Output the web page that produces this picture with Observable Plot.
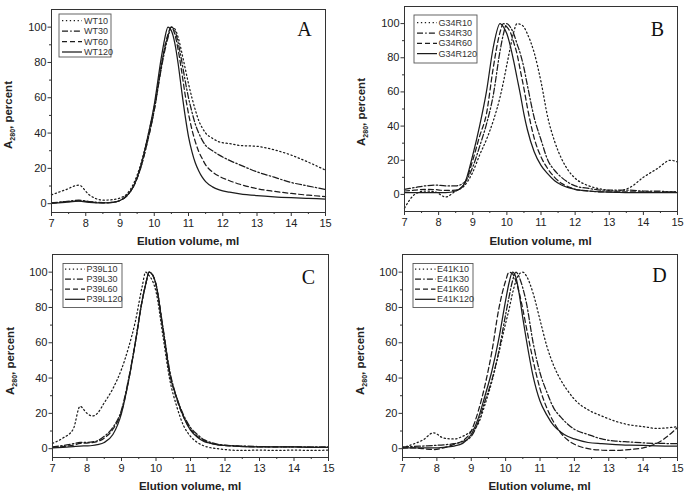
<!DOCTYPE html>
<html>
<head>
<meta charset="utf-8">
<script src="https://cdn.jsdelivr.net/npm/d3@7"></script>
<script src="https://cdn.jsdelivr.net/npm/@observablehq/plot@0.6"></script>
<style>
  body { margin: 0; background: #fff; }
  #fig { position: relative; width: 698px; height: 491px; overflow: hidden; background: #fff; }
  .panel { position: absolute; }
  .panel svg { overflow: visible; }
</style>
</head>
<body>
<div id="fig"></div>
<script>
// Elution profiles (A280, % of peak maximum) vs. elution volume, ml

// Panel A: wild type
const volA = [7, 7.4, 7.8, 8.1, 8.5, 8.8, 9, 9.2, 9.4, 9.6, 9.8, 10, 10.2, 10.3, 10.4, 10.5, 10.6, 10.7, 10.8, 10.9,
  11, 11.1, 11.2, 11.3, 11.4, 11.5, 11.7, 11.9, 12.2, 12.5, 13, 13.5, 14, 14.5, 15];
const wt10 = [5, 7.8, 10.5, 5, 2, 2.3, 3.2, 5.5, 11.5, 22, 37, 55, 78, 88, 95, 100, 99, 94, 86, 77,
  68, 60, 53, 47, 43, 40, 37, 35, 34, 33, 32.5, 30.5, 27.5, 23.5, 19];
const wt30 = [0.5, 1.2, 2, 1.2, 0.6, 0.8, 1.8, 4.5, 10, 20, 35, 53, 76, 86, 94, 100, 98, 91, 81, 70,
  60, 52, 45, 40, 36, 33, 30, 27.5, 24.5, 22, 18, 15, 12, 10, 8];
const wt60 = [0.3, 1, 1.6, 1, 0.5, 0.8, 1.8, 4.5, 10, 20, 35, 53, 77, 88, 96, 100, 96, 87, 75, 62,
  51, 42, 35, 29.5, 25.5, 22, 18, 15.5, 13, 11, 8.5, 7, 5.8, 4.8, 4];
const wt120 = [0.2, 0.8, 1.4, 0.8, 0.4, 0.8, 1.8, 4.5, 10, 21, 37, 56, 82, 93, 100, 98, 91, 79, 64, 50,
  38, 29.5, 23, 18.5, 15, 12.5, 9.5, 7.8, 6.5, 5.6, 4.6, 3.9, 3.4, 3, 2.6];

// Panel B: G34R
const volB = [7, 7.3, 7.6, 7.9, 8.2, 8.5, 8.75, 9, 9.2, 9.4, 9.6, 9.8, 9.9, 10, 10.1, 10.2, 10.3, 10.4, 10.5, 10.6,
  10.8, 11, 11.2, 11.4, 11.6, 11.8, 12, 12.4, 12.8, 13.2, 13.6, 14, 14.4, 14.8, 15];
const g34r10 = [-8, 0, 2, 1.5, -1.5, 2, 5, 13, 23, 32, 43, 57, 66, 76, 86, 95, 100, 99.5, 98, 94,
  83, 66, 45, 31, 21, 14, 9.5, 5, 3, 2, 4, 10, 15, 20, 19];
const g34r30 = [3, 4, 5, 5.5, 5, 5, 7, 16, 28, 41, 58, 84, 94, 100, 98, 94, 88, 82, 74, 64,
  45, 32, 20, 14, 10, 7, 5, 3.5, 2.5, 2.5, 2.5, 2, 2, 1.5, 1.5];
const g34r60 = [2, 2.5, 3, 2.8, 2.3, 2.5, 6, 20, 34, 47, 74, 95, 100, 98, 95, 89, 82, 72, 62, 51,
  33, 22, 15, 10, 6.5, 4.5, 3, 2, 1.5, 1.5, 1.5, 1.5, 1.5, 1.5, 1.5];
const g34r120 = [1, 1, 1, 1, 1, 2, 6, 23, 40, 60, 86, 100, 98, 94, 87, 78, 68, 58, 47, 38,
  25, 17, 12, 8, 5.5, 4, 3, 2, 1.5, 1.2, 1, 1, 1, 1, 1];

// Panel C: P39L
const volC = [7, 7.3, 7.6, 7.8, 8, 8.15, 8.3, 8.5, 8.75, 9, 9.2, 9.4, 9.6, 9.7, 9.8, 9.9, 10, 10.2, 10.4, 10.6,
  10.8, 11, 11.2, 11.4, 11.6, 11.8, 12, 12.5, 13, 13.5, 14, 14.5, 15];
const p39l10 = [3, 6, 11, 24, 20, 18.5, 20, 26, 34, 45, 57, 72, 92, 100, 98, 95, 89, 64, 39, 24,
  13, 7, 3.5, 1.5, 0.5, 0, -0.5, -1, -0.8, -1, -0.8, -1, -0.8];
const p39l30 = [1, 1.8, 2.8, 3.5, 3.6, 3.8, 4.5, 7, 12, 22, 39, 60, 84, 93, 100, 98.5, 93, 69, 44, 29,
  19, 12, 8, 5, 3.5, 2.5, 2, 1.5, 1.2, 1, 1, 1, 1];
const p39l60 = [0.8, 1.2, 2, 3, 3.2, 3.4, 4, 6, 11, 21, 38, 60, 84, 93, 100, 98.5, 93, 68, 43, 28,
  18, 11, 7, 4.5, 3, 2.2, 1.8, 1.3, 1, 1, 1, 0.8, 0.8];
const p39l120 = [0.5, 0.8, 1.2, 1.5, 1.6, 1.8, 2.3, 3.5, 8, 20, 38, 60, 84, 93, 100, 98.5, 93, 68, 42, 29,
  18, 10.5, 6.5, 4, 3, 2.2, 1.8, 1.2, 1, 1, 1, 0.8, 0.8];

// Panel D: E41K
const volD = [7, 7.3, 7.6, 7.9, 8.2, 8.5, 8.75, 9, 9.2, 9.4, 9.6, 9.8, 10, 10.1, 10.2, 10.3, 10.4, 10.5, 10.6,
  10.8, 11, 11.2, 11.4, 11.6, 11.8, 12, 12.4, 12.8, 13.2, 13.6, 14, 14.4, 14.8, 15];
const e41k10 = [0.5, 2.5, 5, 9, 6, 5.5, 7, 10, 14, 25, 38, 54, 71, 79, 88, 95, 99, 100, 98,
  88, 73, 58, 47, 39, 33, 28, 22, 18.5, 15.5, 13.5, 12.5, 11.5, 12, 12.5];
const e41k30 = [1, 1.2, 1.5, 1.8, 2.2, 2.8, 4, 7, 15, 27, 39, 55, 76, 86, 95, 100, 97, 91, 83,
  60, 43, 32, 23, 18, 14, 11, 8, 5.5, 4.3, 3.8, 3.3, 3, 2.9, 2.8];
const e41k60 = [0.3, 0.5, 0, -0.5, 0.5, 2.5, 4.5, 10, 21, 36, 55, 79, 95, 100, 99, 95, 88, 79, 69,
  50, 34, 23, 15, 9, 5, 2.5, 0, -0.8, -1, -0.5, 0.5, 3, 8.5, 12];
const e41k120 = [0.5, 0.5, 0.5, 0.5, 0.8, 1.5, 3, 8, 17, 30, 44, 62, 84, 94, 100, 97, 87, 74, 62,
  41, 27, 19, 13, 9.5, 7, 5.5, 3.5, 2.8, 2.3, 2, 1.8, 1.6, 1.5, 1.5];

// Axis ticks
const xTicks = [7, 8, 9, 10, 11, 12, 13, 14, 15];
const xMinor = [7.5, 8.5, 9.5, 10.5, 11.5, 12.5, 13.5, 14.5];
const yTicks = [0, 20, 40, 60, 80, 100];
const yMinor = [10, 30, 50, 70, 90];

// Line styles shared by the four incubation times
const dashes = ["1.3,2.6", "6,2.2,1.5,2.2", "5,3", null];

const ink = "#1c1c1c";
const font = "'Liberation Sans', Arial, Helvetica, sans-serif";

const panels = [
  { letter: "A", left: 0, top: 0, width: 349, height: 245, m: [9, 24, 33, 51], yDomain: [-5, 110],
    vol: volA, names: ["WT10", "WT30", "WT60", "WT120"], data: [wt10, wt30, wt60, wt120],
    legend: { x: 59, y: 14, w: 52, h: 43, row0: 20.5, dy: 10.5, lx0: 62, lx1: 82, tx: 84 },
    letterPos: [304.5, 35.5], yTitle: [12, 115] },
  { letter: "B", left: 349, top: 0, width: 349, height: 245, m: [6, 21, 34, 55], yDomain: [-10, 110],
    vol: volB, names: ["G34R10", "G34R30", "G34R60", "G34R120"], data: [g34r10, g34r30, g34r60, g34r120],
    legend: { x: 65, y: 15, w: 63, h: 48, row0: 22.7, dy: 10.3, lx0: 68, lx1: 88, tx: 89.5 },
    letterPos: [308.5, 35.5], yTitle: [16, 112] },
  { letter: "C", left: 0, top: 245, width: 349, height: 246, m: [9, 21, 34, 52], yDomain: [-5, 110],
    vol: volC, names: ["P39L10", "P39L30", "P39L60", "P39L120"], data: [p39l10, p39l30, p39l60, p39l120],
    legend: { x: 63, y: 18.5, w: 59, h: 44, row0: 24, dy: 10.1, lx0: 65, lx1: 85, tx: 86.5 },
    letterPos: [308.5, 39], yTitle: [14, 116] },
  { letter: "D", left: 349, top: 245, width: 349, height: 246, m: [9, 21, 34, 53], yDomain: [-5, 110],
    vol: volD, names: ["E41K10", "E41K30", "E41K60", "E41K120"], data: [e41k10, e41k30, e41k60, e41k120],
    legend: { x: 64, y: 18.5, w: 60, h: 44, row0: 24, dy: 10.1, lx0: 66, lx1: 86.5, tx: 88 },
    letterPos: [310.5, 37], yTitle: [15, 116] }
];

const fig = d3.select("#fig");

for (const p of panels) {
  const [mt, mr, mb, ml] = p.m;
  const lines = p.data.map((ys, i) =>
    Plot.line(p.vol.map((v, j) => ({ vol: v, a: ys[j] })), {
      x: "vol", y: "a", curve: "monotone-x",
      stroke: ink, strokeWidth: 1.25, strokeDasharray: dashes[i]
    })
  );

  const svg = Plot.plot({
    width: p.width, height: p.height,
    marginTop: mt, marginRight: mr, marginBottom: mb, marginLeft: ml,
    x: { domain: [7, 15], label: null },
    y: { domain: p.yDomain, label: null },
    style: { fontFamily: font, fontSize: "11px", color: "#222", background: "transparent", overflow: "visible" },
    marks: [
      ...lines,
      Plot.frame({ stroke: "#333", strokeWidth: 1 }),
      Plot.axisX({ ticks: xTicks, tickSize: 4, tickPadding: 3, label: null, fontSize: 11, stroke: "#333" }),
      Plot.axisX({ ticks: xMinor, tickSize: 2, tickFormat: () => "", label: null, stroke: "#333" }),
      Plot.axisY({ ticks: yTicks, tickSize: 3.5, tickPadding: 1.5, label: null, fontSize: 11, stroke: "#333" }),
      Plot.axisY({ ticks: yMinor, tickSize: 2, tickFormat: () => "", label: null, stroke: "#333" })
    ]
  });

  const s = d3.select(svg);

  // legend box
  const L = p.legend;
  const lg = s.append("g").attr("text-anchor", "start");
  lg.append("rect").attr("x", L.x).attr("y", L.y).attr("width", L.w).attr("height", L.h)
    .attr("fill", "#fff").attr("stroke", "#555").attr("stroke-width", 0.9);
  p.names.forEach((name, i) => {
    const y = L.row0 + i * L.dy;
    lg.append("line").attr("x1", L.lx0).attr("x2", L.lx1).attr("y1", y).attr("y2", y)
      .attr("stroke", ink).attr("stroke-width", 1.25)
      .attr("stroke-dasharray", dashes[i]);
    lg.append("text").attr("x", L.tx).attr("y", y).attr("dy", "0.35em")
      .attr("text-anchor", "start")
      .attr("font-family", font).attr("font-size", 9).attr("fill", "#333").text(name);
  });

  // panel letter
  s.append("text").attr("x", p.letterPos[0]).attr("y", p.letterPos[1])
    .attr("text-anchor", "middle").attr("font-family", "'Liberation Serif', 'Times New Roman', serif")
    .attr("font-size", 20).attr("fill", "#111").text(p.letter);

  // x axis title
  s.append("text").attr("x", ml + (p.width - ml - mr) / 2).attr("y", 245)
    .attr("text-anchor", "middle").attr("font-family", font).attr("font-weight", "bold")
    .attr("font-size", 11.5).attr("fill", "#222").text("Elution volume, ml");

  // y axis title with subscript
  const yt = s.append("text")
    .attr("transform", `translate(${p.yTitle[0]},${p.yTitle[1]}) rotate(-90)`)
    .attr("text-anchor", "middle").attr("font-family", font).attr("font-weight", "bold")
    .attr("font-size", 11.5).attr("fill", "#222");
  yt.append("tspan").text("A");
  yt.append("tspan").attr("font-size", 7).attr("dy", 3).text("280");
  yt.append("tspan").attr("dy", -3).text(", percent");

  fig.append("div").attr("class", "panel")
    .style("left", p.left + "px").style("top", p.top + "px")
    .node().appendChild(svg);
}
</script>
</body>
</html>
